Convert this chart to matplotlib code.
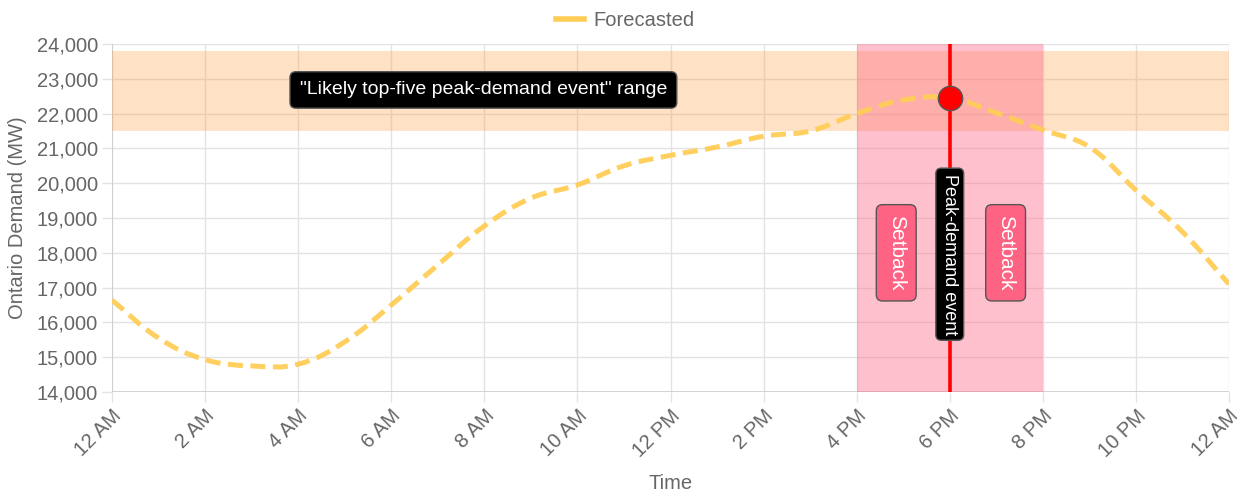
import numpy as np
import matplotlib
matplotlib.use('Agg')
import matplotlib.pyplot as plt
from matplotlib.path import Path
from matplotlib.patches import PathPatch
from matplotlib.lines import Line2D

plt.rcParams['font.family'] = ['Liberation Sans', 'DejaVu Sans']

# data
hours = list(range(25))
forecast = [16640, 15550, 14930, 14750, 14800, 15440, 16500, 17650, 18770,
            19570, 19950, 20500, 20800, 21040, 21350, 21500, 22000, 22390,
            22450, 22020, 21530, 21040, 19800, 18600, 17100]
tick_hours = list(range(0, 25, 2))
tick_labels = ['12 AM', '2 AM', '4 AM', '6 AM', '8 AM', '10 AM', '12 PM',
               '2 PM', '4 PM', '6 PM', '8 PM', '10 PM', '12 AM']
band_low, band_high = 21500, 23800
setback_start, setback_end = 16, 20
peak_hour, peak_value = 18, 22450

fig = plt.figure(figsize=(12.5, 5), dpi=100)
ax = fig.add_axes([0.0896, 0.216, 0.8936, 0.696])
ax.set_xlim(0, 24)
ax.set_ylim(14000, 24000)

grey = '#666666'
fs = 14.5
ax.grid(color='#e3e3e3', linewidth=1)
ax.set_axisbelow(True)
for s in ax.spines.values():
    s.set_visible(False)
ax.axhline(14000, color='#cccccc', lw=1.2, zorder=1)
ax.axvline(0, color='#cccccc', lw=1.2, zorder=1)

ax.set_xticks(tick_hours)
ax.set_xticklabels(tick_labels, rotation=45, ha='right', rotation_mode='anchor')
ax.set_yticks(range(14000, 24001, 1000))
ax.set_yticklabels(['{:,}'.format(v) for v in range(14000, 24001, 1000)])
ax.tick_params(colors=grey, labelsize=fs, length=7, width=1, color='#e3e3e3', pad=3)
ax.set_xlabel('Time', color=grey, fontsize=fs, labelpad=10)
ax.set_ylabel('Ontario Demand (MW)', color=grey, fontsize=fs, labelpad=7)

# shaded regions
ax.axhspan(band_low, band_high, color=(1.0, 159/255, 64/255), alpha=0.3, lw=0, zorder=1)
ax.axvspan(setback_start, setback_end, color=(1.0, 99/255, 132/255), alpha=0.4, lw=0, zorder=1.5)

# smooth line like chart.js (tension 0.4), computed in scaled coords
xs = np.array(hours, dtype=float)
ys = np.array(forecast, dtype=float)
sx, sy = 1117 / 24, 348 / 10000
px, py = xs * sx, ys * sy
t = 0.4
verts = [(xs[0], ys[0])]
codes = [Path.MOVETO]
cps = []
for i in range(len(xs)):
    ip = max(i - 1, 0)
    inx = min(i + 1, len(xs) - 1)
    d01 = np.hypot(px[i] - px[ip], py[i] - py[ip])
    d12 = np.hypot(px[inx] - px[i], py[inx] - py[i])
    tot = d01 + d12 if d01 + d12 > 0 else 1
    fa, fb = t * d01 / tot, t * d12 / tot
    dx, dy = px[inx] - px[ip], py[inx] - py[ip]
    cps.append(((px[i] - fa * dx) / sx, (py[i] - fa * dy) / sy,
                (px[i] + fb * dx) / sx, (py[i] + fb * dy) / sy))
for i in range(len(xs) - 1):
    verts += [(cps[i][2], cps[i][3]), (cps[i + 1][0], cps[i + 1][1]), (xs[i + 1], ys[i + 1])]
    codes += [Path.CURVE4] * 3
line_color = '#ffcd56'
ax.add_patch(PathPatch(Path(verts, codes), fill=False, edgecolor=line_color,
                       lw=3.6, linestyle=(0, (3.0, 1.5)), alpha=0.95, zorder=2))

# peak marker
ax.axvline(peak_hour, color='red', lw=2.6, zorder=3)
ax.plot([peak_hour], [peak_value], 'o', ms=17.5, mfc='red', mec='#555555', mew=1, zorder=4)

# annotations
ax.text(7.98, 22680, '"Likely top-five peak-demand event" range', color='white',
        fontsize=14, ha='center', va='center', zorder=5,
        bbox=dict(boxstyle='round,pad=0.5,rounding_size=0.3', fc='black', ec='#555555', lw=1))
ax.text(peak_hour, 17960, 'Peak-demand event', color='white', fontsize=13,
        rotation=-90, ha='center', va='center', zorder=5,
        bbox=dict(boxstyle='round,pad=0.3,rounding_size=0.3', fc='black', ec='#555555', lw=1))
for hx in [16.85, 19.2]:
    ax.text(hx, 18000, 'Setback', color='white', fontsize=15,
            rotation=-90, ha='center', va='center', zorder=5,
            bbox=dict(boxstyle='round,pad=0.5,rounding_size=0.3', fc='#ff6384', ec='#555555', lw=1))

# legend
handle = Line2D([0], [0], color=line_color, lw=4)
fig.legend([handle], ['Forecasted'], loc='center', bbox_to_anchor=(0.5, 0.958),
           frameon=False, fontsize=fs, labelcolor=grey, handlelength=1.4,
           handletextpad=0.45)

fig.savefig('out.png', dpi=100)
